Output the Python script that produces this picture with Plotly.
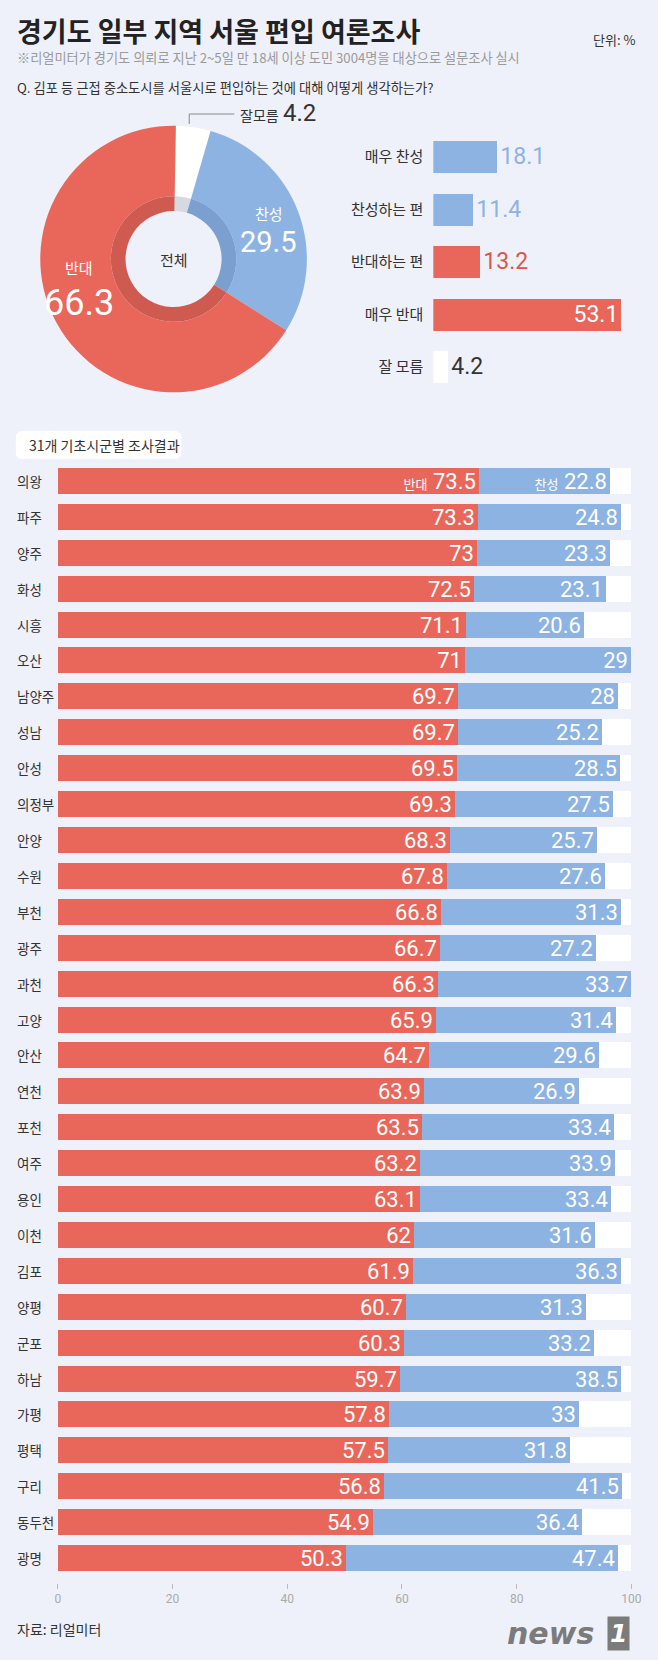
import plotly.graph_objects as go

W, H = 658, 1660
BG = "#eef1f9"
RED = "#e9675a"
BLUE = "#8db3e2"
KR = "Noto Sans CJK KR"
NUM = "Roboto, Noto Sans CJK KR, sans-serif"

# ---------------- data ----------------
total_labels = ["잘모름", "찬성", "반대"]
total_values = [4.2, 29.5, 66.3]

levels = ["매우 찬성", "찬성하는 편", "반대하는 편", "매우 반대", "잘 모름"]
level_values = [18.1, 11.4, 13.2, 53.1, 4.2]

regions = ["의왕", "파주", "양주", "화성", "시흥", "오산", "남양주", "성남", "안성", "의정부",
           "안양", "수원", "부천", "광주", "과천", "고양", "안산", "연천", "포천", "여주",
           "용인", "이천", "김포", "양평", "군포", "하남", "가평", "평택", "구리", "동두천", "광명"]
oppose = [73.5, 73.3, 73, 72.5, 71.1, 71, 69.7, 69.7, 69.5, 69.3,
          68.3, 67.8, 66.8, 66.7, 66.3, 65.9, 64.7, 63.9, 63.5, 63.2,
          63.1, 62, 61.9, 60.7, 60.3, 59.7, 57.8, 57.5, 56.8, 54.9, 50.3]
support = [22.8, 24.8, 23.3, 23.1, 20.6, 29, 28, 25.2, 28.5, 27.5,
           25.7, 27.6, 31.3, 27.2, 33.7, 31.4, 29.6, 26.9, 33.4, 33.9,
           33.4, 31.6, 36.3, 31.3, 33.2, 38.5, 33, 31.8, 41.5, 36.4, 47.4]
full_scale = 100
tick_values = [0, 20, 40, 60, 80, 100]


def px(x):
    return x / W


def py(y):
    return 1 - y / H


fig = go.Figure()

# ---------------- donut ----------------
cx, cy, R, r_ring, r_hole = 174, 259, 136, 64, 49
fig.add_trace(go.Pie(
    labels=total_labels, values=total_values, sort=False, direction="clockwise", rotation=1,
    hole=r_ring / R, marker=dict(colors=["#ffffff", BLUE, RED]),
    textinfo="none", hoverinfo="skip", showlegend=False,
    domain=dict(x=[px(cx - R), px(cx + R)], y=[py(cy + R), py(cy - R)]),
))
fig.add_trace(go.Pie(
    labels=total_labels, values=total_values, sort=False, direction="clockwise", rotation=1,
    hole=r_hole / r_ring, marker=dict(colors=["#d6d9e0", "#7b9fcf", "#cf5b50"]),
    textinfo="none", hoverinfo="skip", showlegend=False,
    domain=dict(x=[px(cx - r_ring), px(cx + r_ring)], y=[py(cy + r_ring), py(cy - r_ring)]),
))

# ---------------- right bars ----------------
lv_colors = [BLUE, BLUE, RED, RED, "#ffffff"]
lv_textcol = [BLUE, BLUE, "#d9574b", "#ffffff", "#333333"]
lv_pos = ["outside", "outside", "outside", "inside", "outside"]
fig.add_trace(go.Bar(
    x=level_values, y=levels, orientation="h", xaxis="x2", yaxis="y2",
    marker=dict(color=lv_colors, line=dict(width=0)), width=0.61,
    text=[f"{v:g}" for v in level_values], textposition=lv_pos, insidetextanchor="end",
    textangle=0, constraintext="none", cliponaxis=False,
    textfont=dict(family=NUM, size=23, color=lv_textcol),
    hoverinfo="skip", showlegend=False,
))

# ---------------- bottom stacked bars ----------------
fig.add_trace(go.Bar(
    x=[full_scale] * len(regions), y=regions, orientation="h",
    marker=dict(color="#ffffff", line=dict(width=0)), width=0.724,
    hoverinfo="skip", showlegend=False,
))
opp_text = [f"{v:g}" for v in oppose]
sup_text = [f"{v:g}" for v in support]
opp_text[0] = '<span style="font-size:13px">반대</span> ' + opp_text[0]
sup_text[0] = '<span style="font-size:13px">찬성</span> ' + sup_text[0]
fig.add_trace(go.Bar(
    x=oppose, y=regions, orientation="h",
    marker=dict(color=RED, line=dict(width=0)), width=0.724,
    text=opp_text, textposition="inside", insidetextanchor="end", textangle=0,
    constraintext="none", textfont=dict(family=NUM, size=22, color="white"),
    hoverinfo="skip", showlegend=False,
))
fig.add_trace(go.Bar(
    x=support, y=regions, base=oppose, orientation="h",
    marker=dict(color=BLUE, line=dict(width=0)), width=0.724,
    text=sup_text, textposition="inside", insidetextanchor="end", textangle=0,
    constraintext="none", textfont=dict(family=NUM, size=22, color="white"),
    hoverinfo="skip", showlegend=False,
))

n = len(regions)
annotations = []
for reg in regions:
    annotations.append(dict(x=px(12), xref="paper", y=reg, yref="y", text=reg, showarrow=False,
                            xanchor="left", yanchor="middle",
                            font=dict(family=KR, size=13.5, color="#333333")))


def ann(x, y, text, size, color="#333333", xanchor="left", family=KR, yanchor="middle"):
    annotations.append(dict(x=px(x), y=py(y), xref="paper", yref="paper", text=text,
                            showarrow=False, xanchor=xanchor, yanchor=yanchor,
                            font=dict(family=family, size=size, color=color)))


ann(12, 30, "<b>경기도 일부 지역 서울 편입 여론조사</b>", 27, "#222222")
ann(647, 40, "단위: %", 13, "#333333", xanchor="right")
ann(12, 58, "※리얼미터가 경기도 의뢰로 지난 2~5일 만 18세 이상 도민 3004명을 대상으로 설문조사 실시", 13.2, "#9a9a9a")
ann(12, 87, "Q. 김포 등 근접 중소도시를 서울시로 편입하는 것에 대해 어떻게 생각하는가?", 13.3, "#333333")

# donut labels
ann(cx, cy, "전체", 15, "#333333", xanchor="center")
ann(271, 214, "찬성", 15, "#ffffff", xanchor="center")
ann(271, 242, "29.5", 29, "#ffffff", xanchor="center", family=NUM)
ann(78, 267, "반대", 15, "#ffffff", xanchor="center")
ann(78, 303, "66.3", 36, "#ffffff", xanchor="center", family=NUM)
ann(240, 115, "잘모름", 14, "#333333")
ann(284, 113, "4.2", 24, "#333333", family=NUM)

# section label
ann(24, 445, "31개 기초시군별 조사결과", 14, "#333333")
# source
ann(12, 1629, "자료: 리얼미터", 14, "#333333")
# logo
ann(605, 1633, "<b><i>news</i></b>", 30, "#7b7b7b", xanchor="right", family="DejaVu Sans")
annotations.append(dict(x=px(628), y=py(1633), xref="paper", yref="paper", text="<b><i>1</i></b>",
                        showarrow=False, xanchor="center", yanchor="middle", bgcolor="#7b7b7b",
                        borderpad=2, font=dict(family="DejaVu Sans", size=25, color="white")))

shapes = []
# leader line for 잘모름
shapes.append(dict(type="path", xref="paper", yref="paper",
                   path=f"M {px(190)},{py(124)} L {px(190)},{py(114)} L {px(236)},{py(114)}",
                   line=dict(color="#8a8a8a", width=1)))


def rounded_rect(x0, y0, x1, y1, r):
    rx, ry = r / W, r / H
    X0, X1 = px(x0), px(x1)
    Y0, Y1 = py(y0), py(y1)
    return (f"M {X0 + rx},{Y0} L {X1 - rx},{Y0} Q {X1},{Y0} {X1},{Y0 - ry} "
            f"L {X1},{Y1 + ry} Q {X1},{Y1} {X1 - rx},{Y1} L {X0 + rx},{Y1} "
            f"Q {X0},{Y1} {X0},{Y1 + ry} L {X0},{Y0 - ry} Q {X0},{Y0} {X0 + rx},{Y0} Z")


shapes.append(dict(type="path", xref="paper", yref="paper", path=rounded_rect(13, 431, 182, 459, 7),
                   fillcolor="#ffffff", line=dict(width=0), layer="below"))

fig.update_layout(
    width=W, height=H, margin=dict(l=0, r=0, t=0, b=0),
    paper_bgcolor=BG, plot_bgcolor="rgba(0,0,0,0)",
    barmode="overlay", bargap=0,
    xaxis=dict(domain=[px(56), px(641)], range=[0, 100], anchor="free", position=py(1583),
               showgrid=False, zeroline=False, showline=False,
               ticks="outside", ticklen=5, tickwidth=1, tickcolor="#bbbbbb",
               tickvals=tick_values, tickfont=dict(family="Roboto", size=12, color="#aaaaaa")),
    yaxis=dict(domain=[py(1576), py(463)], range=[n - 0.5, -0.5], type="category",
               categoryorder="array", categoryarray=regions,
               showticklabels=False, showgrid=False, zeroline=False, showline=False, ticks=""),
    xaxis2=dict(domain=[px(439), px(640)], range=[0, 55.6], anchor="y2", visible=False),
    yaxis2=dict(domain=[py(393.25), py(130.75)], range=[4.5, -0.5], type="category",
                categoryorder="array", categoryarray=levels, anchor="x2",
                showgrid=False, zeroline=False, showline=False, ticks="",
                ticklabelstandoff=9, tickfont=dict(family=KR, size=15, color="#333333")),
    annotations=annotations, shapes=shapes,
)

fig.write_html("out.html", config={"displayModeBar": False},
               post_script="document.body.style.margin='0';document.body.style.background='#eef1f9';")
